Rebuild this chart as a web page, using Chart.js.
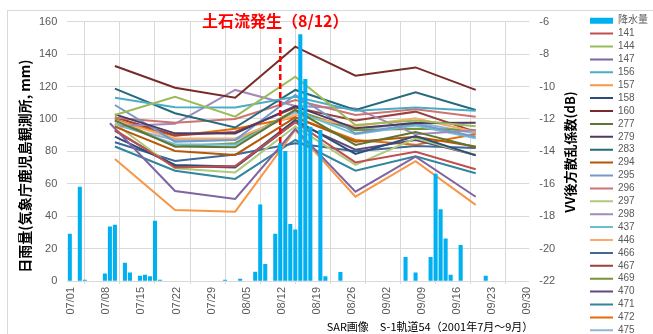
<!DOCTYPE html>
<html>
<head>
<meta charset="utf-8">
<script src="https://cdn.jsdelivr.net/npm/chart.js@4.4.1/dist/chart.umd.min.js"></script>
<style>
  html, body { margin: 0; padding: 0; background: #fff; overflow: hidden; }
  #wrap { width: 653px; height: 334px; position: relative; }
</style>
</head>
<body>
<div id="wrap"><canvas id="c" width="653" height="334"></canvas></div>
<script>
// --- data ---
// daily rain (mm), only days with rain
const rainDates = ['07/01','07/03','07/04','07/08','07/09','07/10','07/12','07/13','07/15','07/16','07/17','07/18','07/19',
  '08/01','08/04','08/07','08/08','08/09','08/11','08/12','08/13','08/14','08/15','08/16','08/17','08/18','08/20','08/21','08/24',
  '09/06','09/08','09/11','09/12','09/13','09/14','09/15','09/17','09/22'];
const rainMm = [29, 58, 0.5, 4.5, 33.5, 34.5, 11, 5, 3, 3.7, 2.7, 37, 0.5,
  0.5, 1.2, 5.5, 47, 10.3, 29, 85, 80, 35, 31.5, 152, 124.5, 95, 93, 2.7, 5.4,
  14.6, 5, 14.6, 66, 44, 26, 3.7, 22, 3];

// SAR acquisitions (VV backscatter, dB)
const sarDates = ['07/10','07/22','08/03','08/15','08/27','09/08','09/20'];
const sarDates147 = ['07/09','07/22','08/03','08/15','08/27','09/08','09/20'];

const v141 = [-12.68, -15.0, -14.9, -12.2, -14.68, -14.02, -15.1];
const v144 = [-11.76, -10.63, -11.86, -9.39, -12.37, -12.1, -12.45];
const v147 = [-12.27, -16.45, -16.94, -12.62, -16.49, -14.33, -16.8];
const v156 = [-10.69, -11.28, -11.3, -10.63, -11.5, -11.3, -11.5];
const v157 = [-14.47, -17.62, -17.72, -12.68, -16.8, -14.6, -17.3];
const v158 = [-13.09, -14.84, -14.94, -12.06, -14.16, -13.05, -14.25];
const v160 = [-8.73, -10.07, -10.69, -7.54, -9.33, -8.82, -10.21];
const v277 = [-12.1, -13.7, -13.75, -11.45, -13.6, -12.8, -13.75];
const v279 = [-11.72, -12.89, -12.9, -11.2, -12.58, -12.25, -12.23];
const v283 = [-10.13, -11.65, -12.53, -10.21, -11.45, -10.36, -11.45];
const v294 = [-12.47, -13.98, -14.22, -11.9, -13.4, -13.1, -13.7];
const v295 = [-11.14, -13.4, -13.3, -10.52, -12.9, -12.3, -13.1];
const v296 = [-11.92, -12.23, -12.0, -10.83, -11.76, -11.4, -11.86];
const v297 = [-12.3, -15.04, -15.3, -12.47, -14.84, -13.2, -14.22];
const v298 = [-12.45, -12.3, -10.21, -11.2, -11.35, -12.95, -12.7];
const v437 = [-12.27, -13.56, -13.6, -11.5, -12.95, -12.4, -13.2];
const v446 = [-12.1, -13.2, -13.2, -11.76, -12.45, -11.96, -12.8];
const v466 = [-13.44, -14.6, -14.2, -13.5, -14.0, -13.67, -13.8];
const v467 = [-11.9, -13.0, -12.8, -11.3, -12.1, -11.55, -12.8];
const v469 = [-12.0, -13.7, -13.5, -11.45, -12.7, -12.6, -12.68];
const v470 = [-12.74, -14.9, -15.0, -12.2, -13.9, -13.3, -14.22];
const v471 = [-13.7, -15.2, -15.7, -13.3, -15.19, -14.3, -15.35];
const v472 = [-12.06, -13.05, -12.6, -11.9, -13.3, -13.6, -12.95];
const v475 = [-12.37, -13.3, -13.3, -11.6, -12.7, -12.2, -12.9];

const sarIds = ['141','144','147','156','157','158','160','277','279','283','294','295',
  '296','297','298','437','446','466','467','469','470','471','472','475'];
const sarValues = [v141, v144, v147, v156, v157, v158, v160, v277, v279, v283, v294, v295,
  v296, v297, v298, v437, v446, v466, v467, v469, v470, v471, v472, v475];
const lineColors = ['#C0504D','#9BBB59','#8064A2','#4BACC6','#F79646','#2C4D75','#772C2A','#5F7530',
  '#4D3B62','#276A7C','#B65708','#729ACA','#CD7371','#AFC97A','#A18BB9','#6FBDD1','#F9AB6B',
  '#3F6797','#9A403E','#77933C','#604A7B','#31859C','#E46C0A','#95B3D7'];

const xTickLabels = ['07/01','07/08','07/15','07/22','07/29','08/05','08/12','08/19','08/26','09/02','09/09','09/16','09/23','09/30'];
const eventDate = '08/12';

// --- helpers ---
const monthStart = { '07': 0, '08': 31, '09': 62 };
function dayOf(s) {
    const [m, d] = s.split('/');
    return monthStart[m] + parseInt(d, 10) - 1;
}
// each day sits in the middle of its slot
const xOf = s => dayOf(s) + 0.5;

const grey = '#595959';
const gridCol = '#D9D9D9';
const tickFont = { family: "'Liberation Sans', 'Noto Sans CJK JP', sans-serif", size: 11 };
const jp = "'Noto Sans CJK JP', sans-serif";

const datasets = [{
    type: 'bar',
    label: '降水量',
    yAxisID: 'y',
    data: rainDates.map((d, i) => ({ x: xOf(d), y: rainMm[i] })),
    backgroundColor: '#00B0F0',
    barThickness: 3.4,
    order: 0
}];
sarIds.forEach((id, k) => {
    const dates = id === '147' ? sarDates147 : sarDates;
    datasets.push({
        type: 'line',
        label: id,
        yAxisID: 'y2',
        data: dates.map((d, i) => ({ x: xOf(d), y: sarValues[k][i] })),
        borderColor: lineColors[k],
        backgroundColor: lineColors[k],
        borderWidth: 2,
        pointRadius: 0,
        tension: 0,
        order: 1
    });
});

// --- extra drawing: frame, event marker, axis titles ---
const extras = {
    id: 'extras',
    beforeDraw(chart) {
        const ctx = chart.ctx;
        ctx.save();
        ctx.fillStyle = '#fff';
        ctx.fillRect(0, 0, chart.width, chart.height);
        ctx.strokeStyle = gridCol;
        ctx.lineWidth = 1;
        ctx.strokeRect(7.5, 10.5, 700, 400);
        ctx.restore();
        // place legend like the original (runs off the bottom edge)
        chart.legend.left = 587.1;
        chart.legend.top = 12.8;
        chart.legend.bottom = 600;
    },
    afterDatasetsDraw(chart) {
        const ctx = chart.ctx;
        const xs = chart.scales.x, ys = chart.scales.y;
        const px = xs.getPixelForValue(xOf(eventDate));
        ctx.save();
        ctx.strokeStyle = '#FF0000';
        ctx.lineWidth = 2.5;
        ctx.setLineDash([6, 3]);
        ctx.beginPath();
        ctx.moveTo(px, ys.getPixelForValue(150));
        ctx.lineTo(px, ys.getPixelForValue(84));
        ctx.stroke();
        ctx.restore();
    },
    afterDraw(chart) {
        const ctx = chart.ctx;
        const xs = chart.scales.x;
        const px = xs.getPixelForValue(xOf(eventDate));
        ctx.save();
        ctx.textAlign = 'center';
        ctx.textBaseline = 'middle';
        ctx.fillStyle = '#FF0000';
        ctx.font = 'bold 16px ' + jp;
        ctx.fillText('土石流発生（8/12）', px - 5, 21);

        ctx.fillStyle = '#000';
        ctx.font = 'bold 14px ' + jp;
        ctx.save();
        ctx.translate(25, 166);
        ctx.rotate(-Math.PI / 2);
        ctx.fillText('日雨量(気象庁鹿児島観測所, mm)', 0, 0);
        ctx.restore();

        ctx.font = 'bold 13px ' + jp;
        ctx.save();
        ctx.translate(570, 152);
        ctx.rotate(-Math.PI / 2);
        ctx.fillText('VV後方散乱係数(dB)', 0, 0);
        ctx.restore();

        ctx.font = '11px ' + jp;
        ctx.fillText('SAR画像　S-1軌道54（2001年7月～9月）', 430, 327);
        ctx.restore();
    }
};

new Chart(document.getElementById('c'), {
    type: 'bar',
    data: { datasets },
    plugins: [extras],
    options: {
        responsive: false,
        animation: false,
        layout: { padding: 0 },
        plugins: {
            tooltip: { enabled: false },
            legend: {
                position: 'right',
                align: 'start',
                maxWidth: 70,
                labels: {
                    usePointStyle: true,
                    pointStyleWidth: 23,
                    boxHeight: 6,
                    padding: 2.9,
                    color: grey,
                    font: { family: "'Liberation Sans', 'Noto Sans CJK JP', sans-serif", size: 10 },
                    generateLabels(chart) {
                        const items = Chart.defaults.plugins.legend.labels.generateLabels(chart);
                        items.forEach(it => {
                            const ds = chart.data.datasets[it.datasetIndex];
                            if (ds.type === 'bar') {
                                it.pointStyle = 'rect';
                                it.fillStyle = ds.backgroundColor;
                                it.strokeStyle = ds.backgroundColor;
                                it.lineWidth = 0;
                            } else {
                                it.pointStyle = 'line';
                                it.strokeStyle = ds.borderColor;
                                it.lineWidth = 2;
                            }
                        });
                        return items;
                    }
                }
            }
        },
        scales: {
            x: {
                type: 'linear',
                min: 0,
                max: 91,
                offset: false,
                ticks: {
                    stepSize: 7,
                    autoSkip: false,
                    maxRotation: 90,
                    minRotation: 90,
                    padding: 3,
                    labelOffset: 4,
                    color: grey,
                    font: tickFont,
                    callback: (v, i) => xTickLabels[i]
                },
                grid: { color: gridCol, tickLength: 3 },
                border: { color: gridCol },
                afterFit: s => { s.height = 53; }
            },
            y: {
                position: 'left',
                min: 0,
                max: 160,
                ticks: { stepSize: 20, padding: 10, color: grey, font: tickFont },
                grid: { color: gridCol, drawTicks: false },
                border: { display: false },
                afterFit: s => { s.width = 67.3; s.paddingTop = 21.7; }
            },
            y2: {
                position: 'right',
                min: -22,
                max: -6,
                ticks: { stepSize: 2, padding: 10, color: grey, font: tickFont },
                grid: { drawOnChartArea: false, color: gridCol, tickLength: 6 },
                border: { display: false },
                afterFit: s => { s.width = 59.7; }
            }
        }
    }
});
</script>
</body>
</html>
